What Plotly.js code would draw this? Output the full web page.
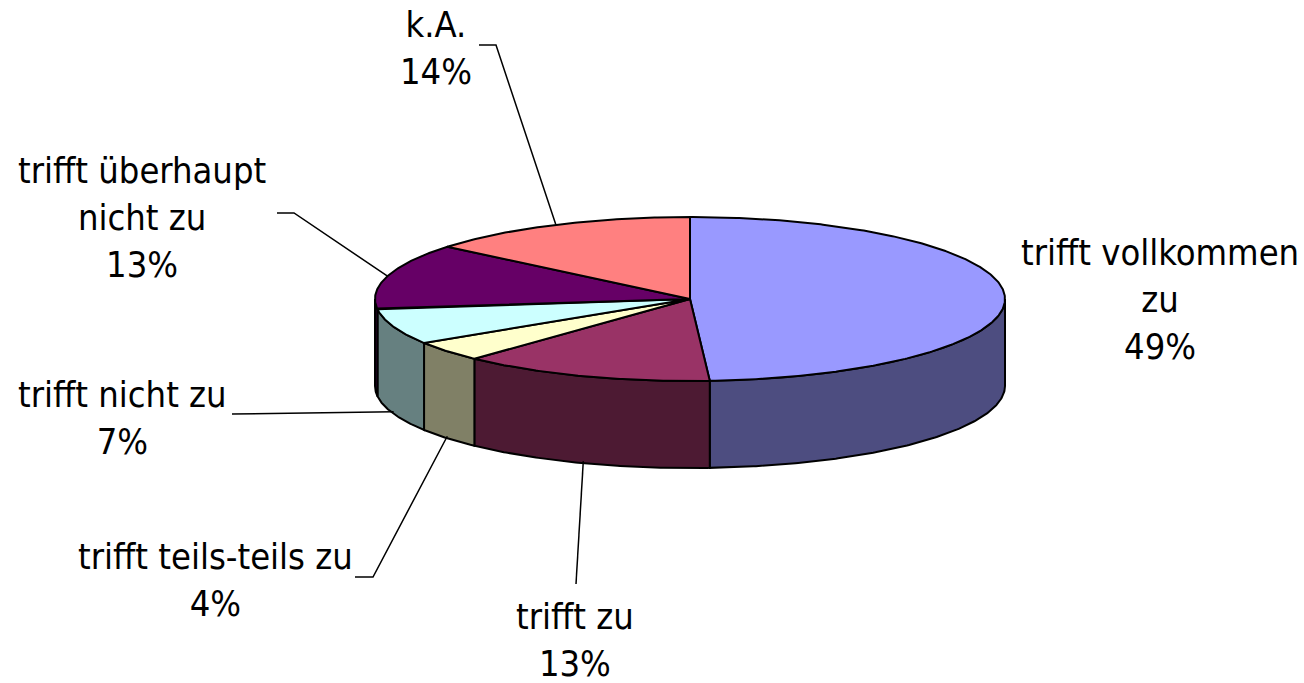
<!DOCTYPE html>
<html>
<head>
<meta charset="utf-8">
<script src="https://cdn.plot.ly/plotly-3.0.1.min.js"></script>
<style>html,body{margin:0;padding:0;background:#fff;}#chart{width:1304px;height:683px;}</style>
</head>
<body>
<div id="chart"></div>
<script>
// ---- data ----
const categories = ['trifft vollkommen zu', 'trifft zu', 'trifft teils-teils zu', 'trifft nicht zu', 'trifft überhaupt nicht zu', 'k.A.'];
const values = [49, 13, 4, 7, 13, 14];
const labelText = ['trifft vollkommen<br>zu', 'trifft zu', 'trifft teils-teils zu', 'trifft nicht zu', 'trifft überhaupt<br>nicht zu', 'k.A.'];

// ---- styles / layout geometry ----
const topColors  = ['#9999FF', '#993366', '#FFFFCC', '#CCFFFF', '#660066', '#FF8080'];
const sideColors = ['#4D4D80', '#4D1A33', '#808066', '#668080', '#330033', '#804040'];
const pie = {cx: 690, cy: 299, rx: 315, ry: 82, depth: 87};
const labelPos = [[1160, 299], [575, 640], [215, 580], [122, 418], [142, 217], [436, 48]];
const leaderStart = [null, [[576, 584]], [[355, 577], [373, 577]], [[232, 414]], [[277, 213], [294, 213]], [[479, 45], [496, 45]]];

function pt(a, down) {
  const r = a * Math.PI / 180;
  return [pie.cx + pie.rx * Math.sin(r), pie.cy - pie.ry * Math.cos(r) + (down ? pie.depth : 0)];
}
function arc(a0, a1, down) {
  const n = Math.max(2, Math.ceil(Math.abs(a1 - a0) * 2));
  const out = [];
  for (let i = 0; i <= n; i++) out.push(pt(a0 + (a1 - a0) * i / n, down));
  return out;
}

const total = values.reduce((s, v) => s + v, 0);
const starts = [];
let acc = 0;
values.forEach(v => { starts.push(acc / total * 360); acc += v; });

const traces = [];
// side walls (front half only)
values.forEach((v, i) => {
  const a0 = starts[i], a1 = a0 + v / total * 360;
  const s = Math.max(a0, 90), e = Math.min(a1, 270);
  if (s >= e) return;
  const p = arc(s, e, false).concat(arc(e, s, true));
  p.push(p[0]);
  traces.push({type: 'scatter', mode: 'lines', x: p.map(q => q[0]), y: p.map(q => q[1]),
    fill: 'toself', fillcolor: sideColors[i], line: {color: '#000', width: 2},
    hoverinfo: 'skip', showlegend: false});
});
// top slices
values.forEach((v, i) => {
  const a0 = starts[i], a1 = a0 + v / total * 360;
  const p = [[pie.cx, pie.cy]].concat(arc(a0, a1, false));
  p.push([pie.cx, pie.cy]);
  traces.push({type: 'scatter', mode: 'lines', x: p.map(q => q[0]), y: p.map(q => q[1]),
    fill: 'toself', fillcolor: topColors[i], line: {color: '#000', width: 2},
    hoverinfo: 'skip', showlegend: false});
});
// leader lines
values.forEach((v, i) => {
  if (!leaderStart[i]) return;
  const mid = starts[i] + v / total * 180;
  const front = mid > 90 && mid < 270;
  const end = front ? pt(mid, true) : pt(mid, false);
  if (front) end[1] -= 2;
  const p = leaderStart[i].concat([end]);
  traces.push({type: 'scatter', mode: 'lines', x: p.map(q => q[0]), y: p.map(q => q[1]),
    line: {color: '#000', width: 1.5}, hoverinfo: 'skip', showlegend: false});
});

const annotations = values.map((v, i) => ({
  x: labelPos[i][0], y: labelPos[i][1], xref: 'x', yref: 'y',
  text: labelText[i] + '<br>' + Math.round(v / total * 100) + '%',
  showarrow: false, xanchor: 'center', yanchor: 'middle', align: 'center',
  font: {family: 'Tahoma, "DejaVu Sans Condensed", Roboto, sans-serif', size: 36, color: '#000'}
}));

const layout = {
  width: 1304, height: 683,
  margin: {l: 0, r: 0, t: 0, b: 0},
  paper_bgcolor: '#fff', plot_bgcolor: '#fff',
  xaxis: {range: [0, 1304], visible: false, fixedrange: true},
  yaxis: {range: [683, 0], visible: false, fixedrange: true},
  annotations: annotations,
  showlegend: false
};
Plotly.newPlot('chart', traces, layout, {displayModeBar: false, staticPlot: true});
</script>
</body>
</html>
